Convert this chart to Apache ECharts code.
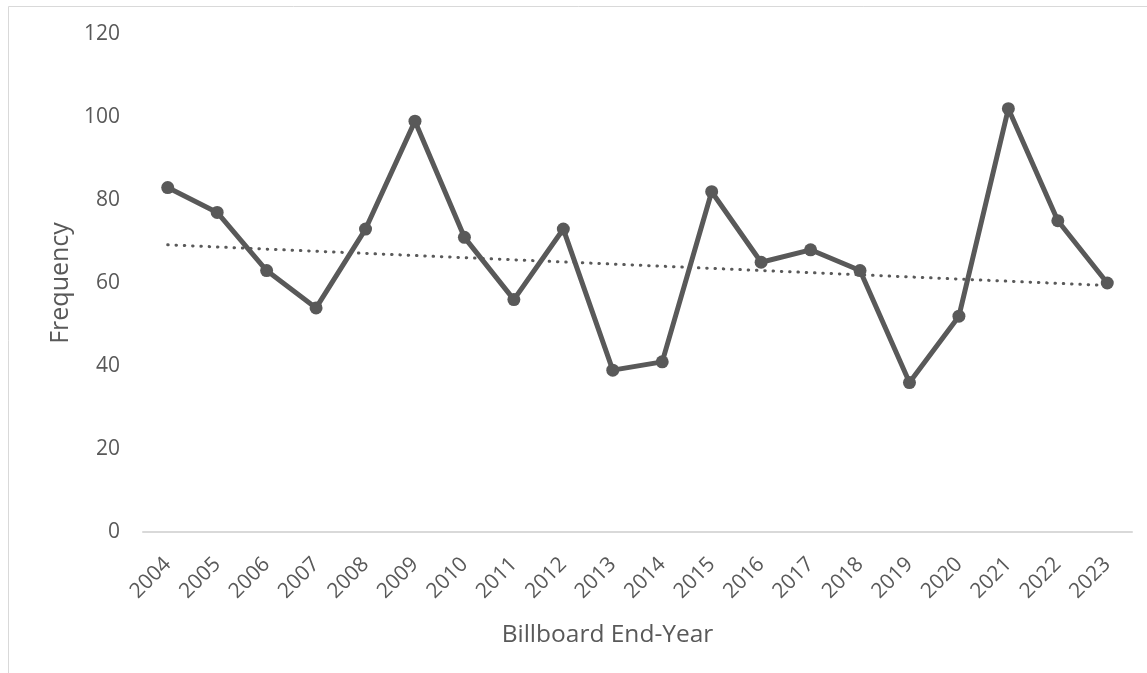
<!DOCTYPE html>
<html>
<head>
<meta charset="utf-8">
<script src="https://cdn.jsdelivr.net/npm/echarts@6/dist/echarts.min.js"></script>
<style>
  html, body { margin: 0; padding: 0; background: #ffffff; }
  #chart { width: 1147px; height: 673px; }
</style>
</head>
<body>
<div id="chart"></div>
<script>
// Billboard end-year frequencies
const years = ['2004', '2005', '2006', '2007', '2008', '2009', '2010', '2011', '2012', '2013',
               '2014', '2015', '2016', '2017', '2018', '2019', '2020', '2021', '2022', '2023'];
const frequency = [83, 77, 63, 54, 73, 99, 71, 56, 73, 39, 41, 82, 65, 68, 63, 36, 52, 102, 75, 60];
// Linear trendline values at the first and last year
const trendEnds = [69.2, 59.4];
const yTicks = { min: 0, max: 120, interval: 20 };

const textColor = '#595959';
const fontFamily = '"Open Sans", "Liberation Sans", sans-serif';

const chart = echarts.init(document.getElementById('chart'), null, { renderer: 'canvas' });

chart.setOption({
  backgroundColor: '#ffffff',
  animation: false,
  graphic: [{
    type: 'rect',
    shape: { x: 8.5, y: 6.5, width: 1200, height: 700 },
    style: { fill: 'none', stroke: '#d9d9d9', lineWidth: 1 },
    silent: true,
    z: -1
  }],
  grid: { left: 143, right: 15, top: 34, bottom: 141, containLabel: false },
  xAxis: {
    type: 'category',
    data: years,
    boundaryGap: true,
    name: 'Billboard End-Year',
    nameLocation: 'middle',
    nameGap: 91,
    nameTextStyle: { color: textColor, fontSize: 24.5, fontFamily: fontFamily, padding: [0, 60, 0, 0] },
    axisLine: { show: true, lineStyle: { color: '#d9d9d9', width: 2 } },
    axisTick: { show: false },
    axisLabel: { color: textColor, fontSize: 21, fontFamily: fontFamily, rotate: 45, margin: 29, interval: 0 },
    splitLine: { show: false }
  },
  yAxis: {
    type: 'value',
    min: yTicks.min,
    max: yTicks.max,
    interval: yTicks.interval,
    name: 'Frequency',
    nameLocation: 'middle',
    nameGap: 70,
    nameRotate: 90,
    nameTextStyle: { color: textColor, fontSize: 25, fontFamily: fontFamily },
    axisLine: { show: false },
    axisTick: { show: false },
    axisLabel: { color: textColor, fontSize: 21, fontFamily: fontFamily, margin: 23 },
    splitLine: { show: false }
  },
  series: [
    {
      name: 'Frequency',
      type: 'line',
      data: frequency,
      symbol: 'circle',
      symbolSize: 13,
      itemStyle: { color: '#595959' },
      lineStyle: { color: '#595959', width: 5, join: 'round' },
      z: 3
    },
    {
      name: 'Trend',
      type: 'line',
      data: [[0, trendEnds[0]], [years.length - 1, trendEnds[1]]],
      symbol: 'none',
      lineStyle: { color: '#595959', width: 3, type: [0.5, 7.8], cap: 'round' },
      z: 2
    }
  ]
});
</script>
</body>
</html>
